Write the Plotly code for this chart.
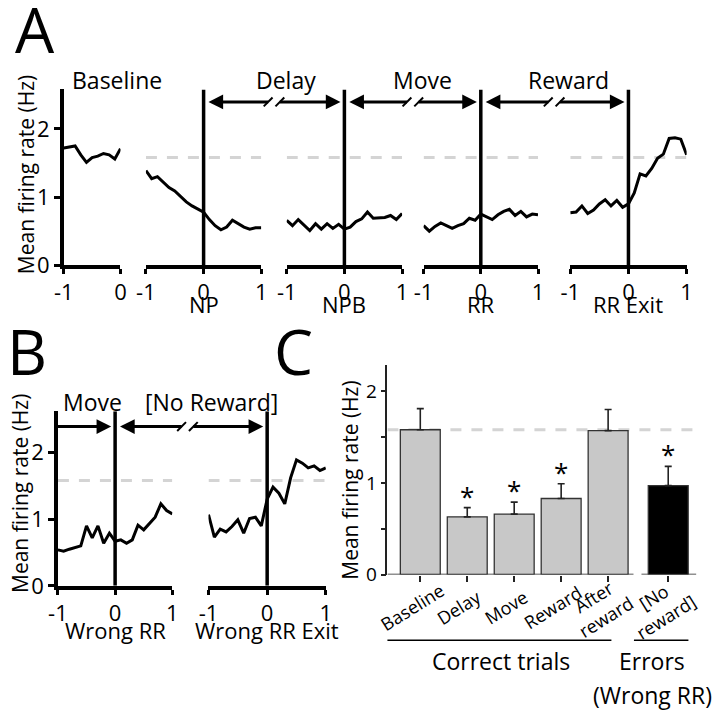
import plotly.graph_objects as go

W, H = 720, 719
FONT = "Open Sans"

# ---------------- data ----------------
t_baseline = [-1.0, -0.9, -0.8, -0.7, -0.6, -0.5, -0.4, -0.3, -0.2, -0.1, 0.0]
t_window = [-1.0, -0.9, -0.8, -0.7, -0.6, -0.5, -0.4, -0.3, -0.2, -0.1, 0.0,
            0.1, 0.2, 0.3, 0.4, 0.5, 0.6, 0.7, 0.8, 0.9, 1.0]

baseline_rate = [1.72, 1.73, 1.75, 1.62, 1.51, 1.58, 1.60, 1.64, 1.62, 1.56, 1.71]
np_rate = [1.39, 1.27, 1.30, 1.22, 1.14, 1.09, 1.01, 0.93, 0.87, 0.82, 0.78,
           0.67, 0.58, 0.52, 0.56, 0.66, 0.61, 0.56, 0.53, 0.55, 0.55]
npb_rate = [0.66, 0.58, 0.67, 0.59, 0.51, 0.61, 0.53, 0.61, 0.54, 0.60, 0.53,
            0.56, 0.64, 0.68, 0.78, 0.69, 0.70, 0.70, 0.73, 0.67, 0.76]
rr_rate = [0.58, 0.50, 0.57, 0.62, 0.58, 0.54, 0.58, 0.61, 0.69, 0.66, 0.75,
           0.71, 0.67, 0.74, 0.79, 0.82, 0.73, 0.79, 0.71, 0.75, 0.74]
rr_exit_rate = [0.77, 0.78, 0.87, 0.76, 0.81, 0.90, 0.96, 0.87, 0.95, 0.85, 0.90,
                1.06, 1.34, 1.31, 1.42, 1.57, 1.63, 1.86, 1.87, 1.85, 1.62]
wrong_rr_rate = [0.54, 0.52, 0.55, 0.57, 0.60, 0.90, 0.72, 0.90, 0.64, 0.79, 0.67,
                 0.69, 0.64, 0.69, 0.91, 0.84, 0.94, 1.03, 1.23, 1.13, 1.08]
wrong_rr_exit_rate = [1.07, 0.73, 0.85, 0.81, 0.89, 0.99, 0.79, 1.01, 1.03, 0.90, 1.30,
                      1.48, 1.39, 1.23, 1.62, 1.89, 1.84, 1.77, 1.80, 1.73, 1.77]

baseline_mean = 1.58

bar_labels = ["Baseline", "Delay", "Move", "Reward", "After<br>reward", "[No<br>reward]"]
bar_pos = [0, 1, 2, 3, 4, 5.28]
bar_mean = [1.58, 0.63, 0.66, 0.83, 1.57, 0.97]
bar_sem = [0.23, 0.10, 0.13, 0.16, 0.23, 0.21]
bar_signif = [False, True, True, True, False, True]
bar_colors = ["#c8c8c8", "#c8c8c8", "#c8c8c8", "#c8c8c8", "#c8c8c8", "#000000"]

# ---------------- geometry helpers ----------------
def PX(x):
    return x / W

def PY(y):
    return 1 - y / H

YSPEC = {
    "A": dict(y0=270.5, unit=69.5, top=2.58),
    "B": dict(y0=597.5, unit=68.0, top=2.62),
}

# idx, x-domain(px), x-range, y-spec, x, y, event-line+dash, show y axis
panels = [
    (1, (55, 113), (-1, 0), "A", t_baseline, baseline_rate, False, True),
    (2, (139, 257), (-1, 1), "A", t_window, np_rate, True, False),
    (3, (283, 401), (-1, 1), "A", t_window, npb_rate, True, False),
    (4, (423, 540), (-1, 1), "A", t_window, rr_rate, True, False),
    (5, (573, 692), (-1, 1), "A", t_window, rr_exit_rate, True, False),
    (6, (49, 166), (-1, 1), "B", t_window, wrong_rr_rate, True, True),
    (7, (203, 323), (-1, 1), "B", t_window, wrong_rr_exit_rate, True, False),
]
PINFO = {p[0]: p for p in panels}

def xpx(idx, xv):
    _, (d0, d1), (r0, r1), *_ = PINFO[idx]
    return d0 + (xv - r0) / (r1 - r0) * (d1 - d0)

def ax_ids(i):
    s = "" if i == 1 else str(i)
    return "x" + s, "y" + s, "xaxis" + s, "yaxis" + s

fig = go.Figure()
layout = dict(
    width=W, height=H, margin=dict(l=0, r=0, t=0, b=0),
    paper_bgcolor="white", plot_bgcolor="rgba(0,0,0,0)",
    font=dict(family=FONT, color="black", size=22),
    showlegend=False,
)
shapes = []
annotations = []

LW = 3.5
for idx, (d0, d1), rng, ys, xs, yv, event, showy in panels:
    xid, yid, xname, yname = ax_ids(idx)
    spec = YSPEC[ys]
    top_px = spec["y0"] - spec["top"] * spec["unit"]
    tv = [-1, 0] if rng == (-1, 0) else [-1, 0, 1]
    layout[xname] = dict(
        domain=[PX(d0), PX(d1)], range=list(rng), anchor=yid,
        showline=True, linewidth=LW, linecolor="black",
        ticks="outside", ticklen=5, tickwidth=3, tickcolor="black",
        tickvals=tv, ticktext=[("-1" if v == -1 else str(v)) for v in tv],
        tickfont=dict(size=22), showgrid=False, zeroline=False, fixedrange=True,
    )
    ydict = dict(
        domain=[PY(spec["y0"]), PY(top_px)], range=[0, spec["top"]], anchor=xid,
        showgrid=False, zeroline=False, fixedrange=True,
    )
    if showy:
        ydict.update(showline=True, linewidth=LW, linecolor="black",
                     ticks="outside", ticklen=6, tickwidth=3, tickcolor="black",
                     tickvals=[0, 1, 2], tickfont=dict(size=22))
    else:
        ydict.update(visible=False)
    layout[yname] = ydict

    fig.add_trace(go.Scatter(x=xs, y=yv, mode="lines", xaxis=xid, yaxis=yid,
                             line=dict(color="black", width=3), hoverinfo="skip"))
    if event:
        shapes.append(dict(type="line", xref=xid, yref=yid, x0=rng[0], x1=rng[1],
                           y0=baseline_mean, y1=baseline_mean, layer="below",
                           line=dict(color="#d4d4d4", width=3, dash="11px,10px")))
        shapes.append(dict(type="line", xref=xid, yref=yid, x0=0, x1=0,
                           y0=0, y1=spec["top"], line=dict(color="black", width=LW)))

# ---------------- arrows ----------------
HL, HH = 15, 7.5

def add_arrow(y, xl, xr, left=True, right=True, brk=None):
    a = xl + (HL - 2 if left else 0)
    b = xr - (HL - 2 if right else 0)
    seg = [(a, b)] if brk is None else [(a, brk - 6), (brk + 6, b)]
    for s0, s1 in seg:
        shapes.append(dict(type="line", xref="paper", yref="paper",
                           x0=PX(s0), x1=PX(s1), y0=PY(y), y1=PY(y),
                           line=dict(color="black", width=3)))
    if brk is not None:
        for c in (brk - 6, brk + 6):
            shapes.append(dict(type="line", xref="paper", yref="paper",
                               x0=PX(c - 4.5), x1=PX(c + 4.5), y0=PY(y + 4.5), y1=PY(y - 4.5),
                               line=dict(color="black", width=2)))
    if left:
        p = f"M {PX(xl)},{PY(y)} L {PX(xl + HL)},{PY(y - HH)} L {PX(xl + HL)},{PY(y + HH)} Z"
        shapes.append(dict(type="path", xref="paper", yref="paper", path=p,
                           fillcolor="black", line=dict(width=0)))
    if right:
        p = f"M {PX(xr)},{PY(y)} L {PX(xr - HL)},{PY(y - HH)} L {PX(xr - HL)},{PY(y + HH)} Z"
        shapes.append(dict(type="path", xref="paper", yref="paper", path=p,
                           fillcolor="black", line=dict(width=0)))

def gap(i, j):
    return (xpx(i, 1) + xpx(j, -1)) / 2

YA, YB = 104, 435
add_arrow(YA, xpx(2, 0) + 5, xpx(3, 0) - 4, brk=gap(2, 3))
add_arrow(YA, xpx(3, 0) + 5, xpx(4, 0) - 4, brk=gap(3, 4))
add_arrow(YA, xpx(4, 0) + 5, xpx(5, 0) - 4, brk=gap(4, 5))
add_arrow(YB, xpx(6, -1), xpx(6, 0) - 4, left=False)
add_arrow(YB, xpx(6, 0) + 5, xpx(7, 0) - 4, brk=gap(6, 7) - 3)

def text(t, x, y, size=22, angle=0, **kw):
    annotations.append(dict(text=t, x=PX(x), y=PY(y), xref="paper", yref="paper",
                            showarrow=False, xanchor="center", yanchor="middle",
                            textangle=angle, font=dict(size=size, family=FONT, color="black"), **kw))

for t, x in [("Baseline", 109), ("Delay", 282), ("Move", 422), ("Reward", 571)]:
    text(t, x, 82, size=23)
text("Move", 84, 410, size=23)
text("[No Reward]", 206, 410, size=23)

for t, i in [("NP", 2), ("NPB", 3), ("RR", 4), ("RR Exit", 5)]:
    text(t, xpx(i, 0), 310, size=22)
for t, i in [("Wrong RR", 6), ("Wrong RR Exit", 7)]:
    text(t, xpx(i, 0), 643, size=22)

text("Mean firing rate (Hz)", 16, 178, size=21, angle=-90)
text("Mean firing rate (Hz)", 10, 503, size=21, angle=-90)
text("Mean firing rate (Hz)", 348, 490, size=21, angle=-90)

text("A", 26, 30, size=62)
text("B", 17, 358, size=62)
text("C", 290, 358, size=62)

# ---------------- panel C ----------------
C_Y0, C_UNIT, C_TOP = 586.0, 93.5, 2.29
CX = (386, 702)
CR = (-0.7, 5.88)
layout["xaxis8"] = dict(domain=[PX(CX[0]), PX(CX[1])], range=list(CR), anchor="y8",
                        showline=False, ticks="outside", ticklen=6, tickwidth=1.5,
                        tickcolor="#222", tickvals=bar_pos, showticklabels=False,
                        showgrid=False, zeroline=False, fixedrange=True)
layout["yaxis8"] = dict(domain=[PY(C_Y0), PY(C_Y0 - C_TOP * C_UNIT)], range=[0, C_TOP],
                        anchor="x8", showline=True, linewidth=1.5, linecolor="#222",
                        ticks="outside", ticklen=5, tickwidth=1.5, tickcolor="#222",
                        tickvals=[0, 0.5, 1, 1.5, 2], ticktext=["0", "", "1", "", "2"],
                        tickfont=dict(size=19), showgrid=False, zeroline=False, fixedrange=True)

fig.add_trace(go.Bar(x=bar_pos, y=bar_mean, width=0.85, xaxis="x8", yaxis="y8",
                     marker=dict(color=bar_colors, line=dict(color="#333", width=1.3)),
                     error_y=dict(type="data", array=bar_sem, arrayminus=[0] * len(bar_sem),
                                  symmetric=False, thickness=1.6, width=3.5, color="#222"),
                     hoverinfo="skip"))

shapes.append(dict(type="line", xref="x8", yref="y8", x0=CR[0], x1=CR[1] - 0.07,
                   y0=baseline_mean, y1=baseline_mean, layer="below",
                   line=dict(color="#d4d4d4", width=3, dash="11px,10px")))
# broken x axis line
brk_c = (bar_pos[4] + bar_pos[5]) / 2
shapes.append(dict(type="line", xref="x8", yref="y8", x0=CR[0], x1=brk_c - 0.1,
                   y0=0, y1=0, line=dict(color="#222", width=1.5)))
shapes.append(dict(type="line", xref="x8", yref="y8", x0=brk_c + 0.07, x1=bar_pos[5] + 0.6,
                   y0=0, y1=0, line=dict(color="#222", width=1.5)))

for lab, x in zip(bar_labels, bar_pos):
    annotations.append(dict(text=lab, x=x, y=PY(619), xref="x8", yref="paper",
                            xshift=-8, showarrow=False, xanchor="center", yanchor="middle",
                            textangle=-32, font=dict(size=18, family=FONT, color="black")))
for x, m, s, sig in zip(bar_pos, bar_mean, bar_sem, bar_signif):
    if sig:
        annotations.append(dict(text="*", x=x, y=m + s, xref="x8", yref="y8",
                                yshift=12, showarrow=False, xanchor="center", yanchor="middle",
                                font=dict(size=26, family=FONT, color="black")))

# group brackets
shapes.append(dict(type="line", xref="x8", yref="paper", x0=bar_pos[0] - 0.88, x1=bar_pos[4] + 0.07,
                   y0=PY(653), y1=PY(653), line=dict(color="black", width=1.5)))
shapes.append(dict(type="line", xref="x8", yref="paper", x0=bar_pos[5] - 0.73, x1=bar_pos[5] + 0.43,
                   y0=PY(653), y1=PY(653), line=dict(color="black", width=1.5)))
text("Correct trials", 502, 674, size=23)
text("Errors", 657, 674, size=23)
text("(Wrong RR)", 657, 709, size=23)

layout["shapes"] = shapes
layout["annotations"] = annotations
fig.update_layout(**layout)

fig.write_html("out.html", config={"displayModeBar": False},
               post_script="document.body.style.margin='0px';")
